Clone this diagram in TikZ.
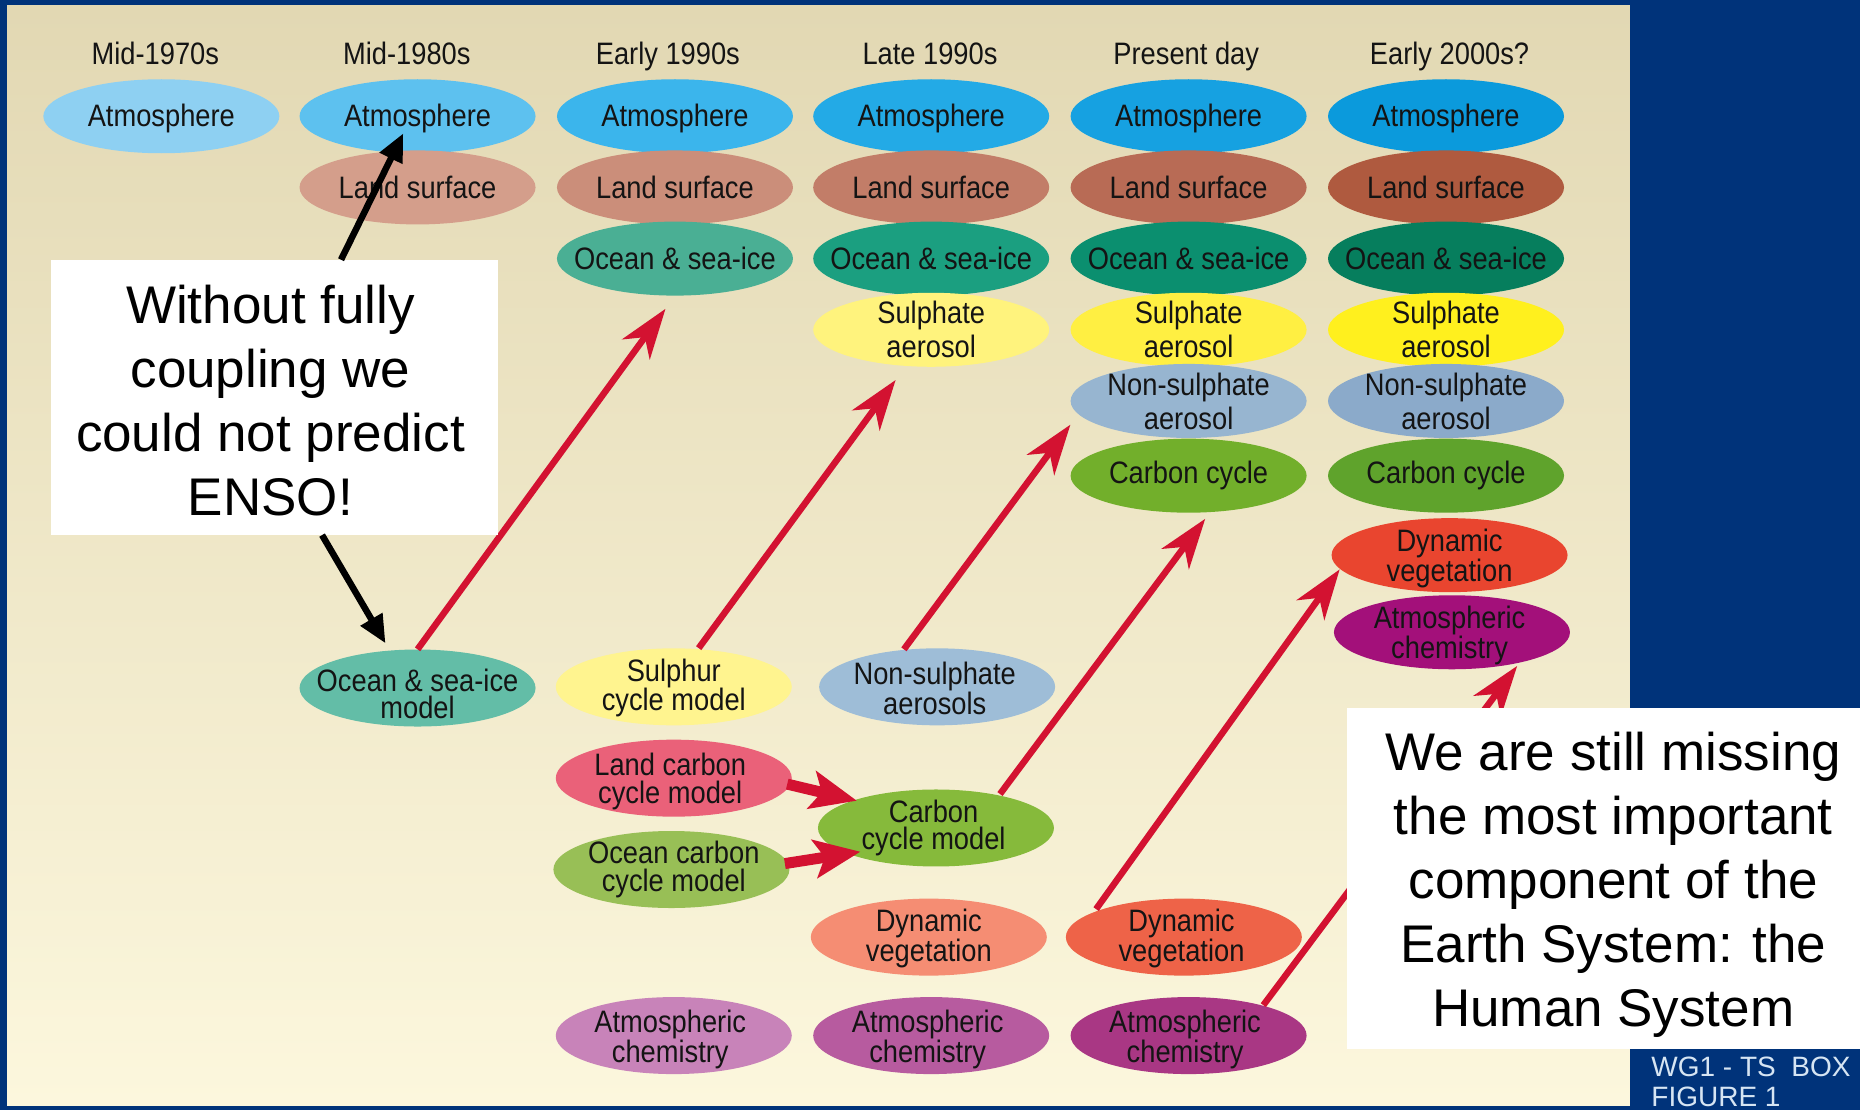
\documentclass[tikz,border=0pt]{standalone}
\usepackage{fontspec}
\setmainfont{Liberation Sans}
\newfontfamily\ellfont[FakeStretch=0.88]{Liberation Sans}
\usetikzlibrary{arrows.meta,calc,shapes.geometric}
\definecolor{bblue}{RGB}{0,51,122}
\definecolor{bgtop}{HTML}{E2D8B3}
\definecolor{bgbot}{HTML}{FCF7DD}
\definecolor{txtc}{HTML}{141414}
\definecolor{arrred}{HTML}{D31231}
\definecolor{wgc}{HTML}{D6E5F3}
% atmosphere
\definecolor{atA}{HTML}{8ED0F2}\definecolor{atB}{HTML}{5DC1EF}\definecolor{atC}{HTML}{3BB5EC}
\definecolor{atD}{HTML}{23AAE6}\definecolor{atE}{HTML}{16A1E1}\definecolor{atF}{HTML}{0B9ADC}
% land
\definecolor{lsB}{HTML}{D49E8B}\definecolor{lsC}{HTML}{CB8E7A}\definecolor{lsD}{HTML}{C27D68}
\definecolor{lsE}{HTML}{B86B55}\definecolor{lsF}{HTML}{AF5A3F}
% ocean
\definecolor{ocC}{HTML}{4AAF94}\definecolor{ocD}{HTML}{1B9F80}\definecolor{ocE}{HTML}{0B8F6F}\definecolor{ocF}{HTML}{067E5D}
% sulphate
\definecolor{suD}{HTML}{FFF37D}\definecolor{suE}{HTML}{FFEF42}\definecolor{suF}{HTML}{FFF01E}
% non-sulphate
\definecolor{nsE}{HTML}{97B5D0}\definecolor{nsF}{HTML}{8BAACA}
% carbon
\definecolor{ccE}{HTML}{72AF2B}\definecolor{ccF}{HTML}{5FA32C}
% dyn veg, atm chem
\definecolor{dvD}{HTML}{F58D73}\definecolor{dvE}{HTML}{EE6348}\definecolor{dvF}{HTML}{E9452F}
\definecolor{acC}{HTML}{C883B9}\definecolor{acD}{HTML}{B75B9F}\definecolor{acE}{HTML}{A93784}\definecolor{acF}{HTML}{A3107A}
% models
\definecolor{ocmC}{HTML}{63BDA7}\definecolor{sulC}{HTML}{FFF48F}\definecolor{nsaC}{HTML}{9EBDD7}
\definecolor{lcmC}{HTML}{EA6179}\definecolor{ocbC}{HTML}{98BF56}\definecolor{ccmC}{HTML}{86BA3B}
\tikzset{
  comp/.style={ellipse, draw=none, inner sep=0pt, minimum width=236pt, minimum height=74pt},
  compm/.style={comp, minimum height=77pt},
  etxt/.style={font=\ellfont\fontsize{31}{34}\selectfont, text=txtc, align=center, inner sep=0pt},
  etxtm/.style={font=\ellfont\fontsize{31}{27.5}\selectfont, text=txtc, align=center, inner sep=0pt},
  head/.style={font=\ellfont\fontsize{31}{34}\selectfont, text=txtc, anchor=base, inner sep=0pt},
  redarr/.style={draw=arrred, line width=6.5pt, -{Stealth[length=50pt,width=34pt,inset=15pt]}},
  fatarr/.style={draw=arrred, line width=11pt, -{Stealth[length=46pt,width=38pt,inset=10pt]}},
  blkarr/.style={draw=black, line width=6.5pt, -{Triangle[length=28pt,width=24pt]}},
  whitebox/.style={fill=white, draw=none, inner sep=0pt},
  bigtxt/.style={font=\fontsize{53}{64}\selectfont, text=black, align=center, inner sep=0pt},
  wgtxt/.style={font=\fontsize{28}{30}\selectfont, text=wgc, align=left, inner sep=0pt}
}
\begin{document}
\begin{tikzpicture}[x=1.18622pt,y=-1.18622pt]
\useasboundingbox (0,0) rectangle (1568,936);
\fill[bblue] (0,0) rectangle (1568,936);
\shade[top color=bgtop,bottom color=bgbot] (6,5) rectangle (1374,932);

% headings
\node[head] (h1) at (131,54) {Mid-1970s};
\node[head] (h2) at (343,54) {Mid-1980s};
\node[head] (h3) at (563,54) {Early 1990s};
\node[head] (h4) at (784,54) {Late 1990s};
\node[head] (h5) at (1000,54) {Present day};
\node[head] (h6) at (1222,54) {Early 2000s?};

% atmosphere row
\node[comp, fill=atA] (a1) at (136,98) {};
\node[comp, fill=atB] (a2) at (352,98) {};
\node[comp, fill=atC] (a3) at (569,98) {};
\node[comp, fill=atD] (a4) at (785,98) {};
\node[comp, fill=atE] (a5) at (1002,98) {};
\node[comp, fill=atF] (a6) at (1219,98) {};
% land row
\node[comp, fill=lsB] (l2) at (352,158) {};
\node[comp, fill=lsC] (l3) at (569,158) {};
\node[comp, fill=lsD] (l4) at (785,158) {};
\node[comp, fill=lsE] (l5) at (1002,158) {};
\node[comp, fill=lsF] (l6) at (1219,158) {};
% ocean row
\node[comp, fill=ocC] (o3) at (569,218) {};
\node[comp, fill=ocD] (o4) at (785,218) {};
\node[comp, fill=ocE] (o5) at (1002,218) {};
\node[comp, fill=ocF] (o6) at (1219,218) {};
% sulphate row
\node[comp, fill=suD] (s4) at (785,278) {};
\node[comp, fill=suE] (s5) at (1002,278) {};
\node[comp, fill=suF] (s6) at (1219,278) {};
% non-sulphate row
\node[comp, fill=nsE] (n5) at (1002,338) {};
\node[comp, fill=nsF] (n6) at (1219,338) {};
% carbon row
\node[comp, fill=ccE] (c5) at (1002,401) {};
\node[comp, fill=ccF] (c6) at (1219,401) {};
% 2000s extra
\node[comp, fill=dvF] (d6) at (1222,468) {};
\node[comp, fill=acF] (x6) at (1224,533) {};

% model components
\node[compm, fill=ocmC] (ocm) at (352,580) {};
\node[compm, fill=sulC] (sul) at (568,579) {};
\node[compm, fill=nsaC] (nsa) at (790,579) {};
\node[compm, fill=lcmC] (lcm) at (568,656) {};
\node[compm, fill=ocbC] (ocb) at (566,733) {};
\node[compm, fill=ccmC] (ccm) at (789,698) {};
\node[compm, fill=dvD] (d4) at (783,790) {};
\node[compm, fill=dvE] (d5) at (998,790) {};
\node[compm, fill=acC] (x3) at (568,873) {};
\node[compm, fill=acD] (x4) at (785,873) {};
\node[compm, fill=acE] (x5) at (1002,873) {};

% labels
\foreach \n in {a1,a2,a3,a4,a5,a6} {\node[etxt] (\n t) at ($(\n)+(0,1.5)$) {Atmosphere};}
\foreach \n in {l2,l3,l4,l5,l6} {\node[etxt] (\n t) at (\n) {Land surface};}
\foreach \n in {o3,o4,o5,o6} {\node[etxt] (\n t) at (\n) {Ocean \& sea-ice};}
\foreach \n in {s4,s5,s6} {\node[etxt] (\n t) at (\n) {Sulphate\\aerosol};}
\foreach \n in {n5,n6} {\node[etxt] (\n t) at (\n) {Non-sulphate\\aerosol};}
\foreach \n in {c5,c6} {\node[etxt] (\n t) at (\n) {Carbon cycle};}
\node[etxtm] (d6t) at ($(d6)+(0,3)$) {Dynamic\\vegetation};
\node[etxtm] (x6t) at ($(x6)+(-2,3)$) {Atmospheric\\chemistry};
\node[etxtm] (ocmt) at ($(ocm)+(0,5)$) {Ocean \& sea-ice\\model};
\node[etxtm] (sult) at ($(sul)+(0,1)$) {Sulphur\\cycle model};
\node[etxtm] (nsat) at ($(nsa)+(-2,1)$) {Non-sulphate\\aerosols};
\node[etxtm] (lcmt) at ($(lcm)+(-3,3)$) {Land carbon\\cycle model};
\node[etxtm] (ocbt) at ($(ocb)+(2,0)$) {Ocean carbon\\cycle model};
\node[etxtm] (ccmt) at ($(ccm)+(-2,0)$) {Carbon\\cycle model};
\node[etxtm] (d4t) at ($(d4)+(0,1)$) {Dynamic\\vegetation};
\node[etxtm] (d5t) at ($(d5)+(-2,1)$) {Dynamic\\vegetation};
\foreach \n in {x3,x4,x5} {\node[etxtm] (\n t) at ($(\n)+(-3,3)$) {Atmospheric\\chemistry};}

% red arrows
\draw[redarr] (ocm.north) -- ($(o3.south)+(-8,11)$);
\draw[redarr] ($(sul.north)+(21,0)$) -- ($(s4.south)+(-30,11)$);
\draw[redarr] ($(nsa.north)+(-28,1)$) -- ($(n5.west)+(0,20)$);
\draw[redarr] ($(ccm.north)+(54,4)$) -- ($(c5.south)+(14,5)$);
\draw[redarr] ($(d5.north)+(-74,9)$) -- ($(d6.west)+(7,12)$);
\draw[redarr] ($(x5.north)+(63,7)$) -- ($(x6.south)+(55,-3)$);
\draw[fatarr] ($(lcm.east)+(-4,5)$) -- ($(ccm.west)+(33,-23)$);
\draw[fatarr] ($(ocb.east)+(-4,-5)$) -- ($(ccm.west)+(36,20)$);

% white boxes
\node[whitebox, minimum width=447pt, minimum height=275pt] (lbox) at (231.5,335) {};
\node[bigtxt] (ltxt) at (228,337.5) {Without fully\\coupling we\\could not predict\\ENSO!};
\node[whitebox, minimum width=513pt, minimum height=341pt] (rbox) at (1352,740.5) {};
\node[bigtxt] (rtxt) at (1360,746) {We are still missing\\the most important\\component of the\\Earth System: the\\Human System};

% black arrows
\draw[blkarr] ($(lbox.north)+(56,0)$) -- ($(a2.south)+(-12,-17)$);
\draw[blkarr] ($(lbox.south)+(40,0)$) -- ($(ocm.north)+(-27,-5)$);

% figure tag
\node[wgtxt, anchor=west] (wg) at (1392,912) {WG1 - TS\ \ BOX\\FIGURE 1};
\end{tikzpicture}
\end{document}
